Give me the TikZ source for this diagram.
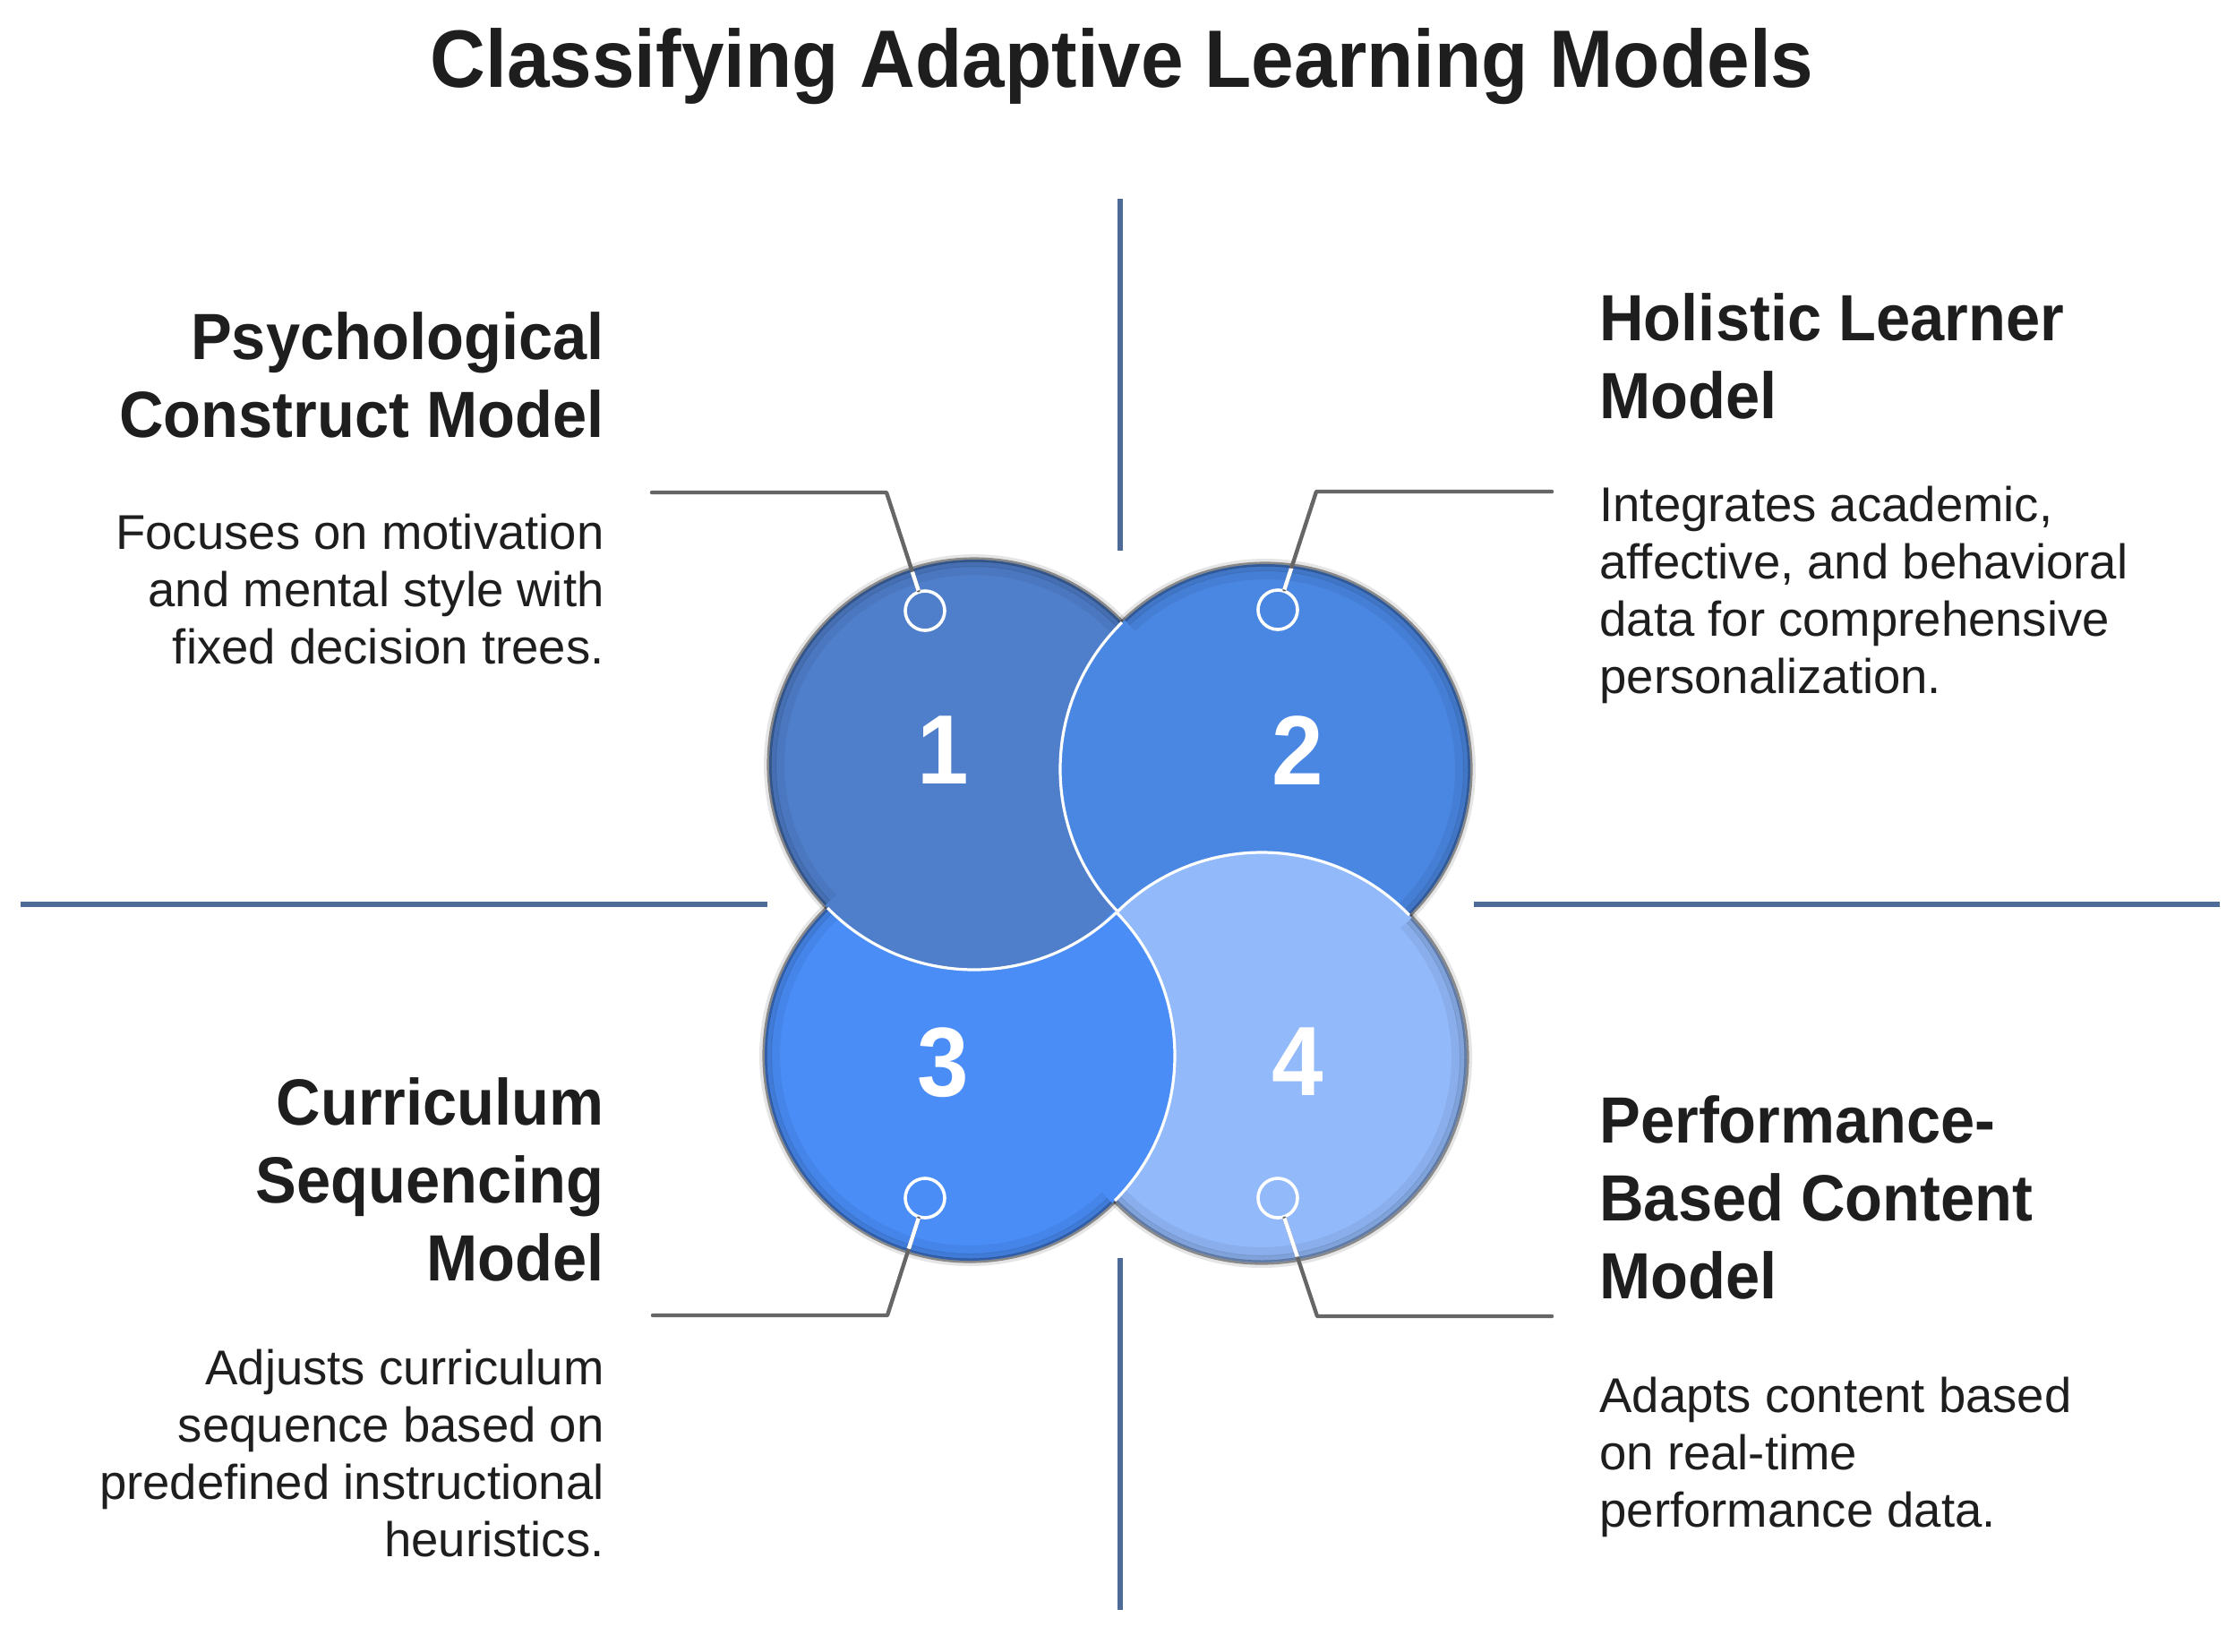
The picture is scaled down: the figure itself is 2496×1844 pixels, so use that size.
\documentclass[tikz,border=0pt]{standalone}
\usepackage{fontspec}
\setmainfont{Liberation Sans}
\newfontfamily\hfont[FakeStretch=0.94]{Liberation Sans}
\newfontfamily\dfont{Liberation Sans}
\definecolor{ink}{HTML}{1E1E1E}
\definecolor{cA}{HTML}{4F7FCB}
\definecolor{cB}{HTML}{4A87E3}
\definecolor{cC}{HTML}{4A8DF7}
\definecolor{cD}{HTML}{92B9FA}
\definecolor{axiscol}{HTML}{4E6A96}
\definecolor{leadcol}{HTML}{666666}
\newcommand\Rad{229}
\begin{document}
\begin{tikzpicture}[x=0.5pt,y=-0.5pt,
  titletext/.style={font=\hfont\bfseries\fontsize{45.5}{54}\selectfont, text=ink, inner sep=0, anchor=base},
  headtext/.style={font=\hfont\bfseries\fontsize{36.5}{43.5}\selectfont, text=ink, inner sep=0},
  desctext/.style={font=\dfont\fontsize{27.25}{32}\selectfont, text=ink, inner sep=0},
  headL/.style={headtext, anchor=base east},
  headR/.style={headtext, anchor=base west},
  descL/.style={desctext, anchor=base east},
  descR/.style={desctext, anchor=base west},
  digit/.style={font=\hfont\bfseries\fontsize{55}{62}\selectfont, text=white, inner sep=0},
  marker/.style={circle, draw=white, line width=1.8pt, minimum size=22pt, inner sep=0},
  leader/.style={draw=leadcol, line width=2.2pt, line join=round, line cap=round},
  leaderin/.style={draw=white, line width=2.2pt},
  axisline/.style={draw=axiscol, line width=3.3pt},
  whitearc/.style={draw=white, line width=1.6pt},
]
\useasboundingbox (0,0) rectangle (2496,1844);

% ---- axis lines ----
\coordinate (vt1) at (1251,222);
\coordinate (vt2) at (1251,615);
\coordinate (vb1) at (1251,1405);
\coordinate (vb2) at (1251,1798);
\coordinate (hl1) at (23,1010);
\coordinate (hl2) at (857,1010);
\coordinate (hr1) at (1646,1010);
\coordinate (hr2) at (2479,1010);
\draw[axisline] (vt1) -- (vt2);
\draw[axisline] (vb1) -- (vb2);
\draw[axisline] (hl1) -- (hl2);
\draw[axisline] (hr1) -- (hr2);

% ---- circle centres ----
\coordinate (C1) at (1088,854);
\coordinate (C2) at (1413,859);
\coordinate (C3) at (1083,1179);
\coordinate (C4) at (1409,1181);

% outer soft edge
\foreach \c in {C1,C2,C3,C4} {
  \draw[black, opacity=.10, line width=3pt] (\c) circle[radius=\Rad+3];
  \draw[black, opacity=.40, line width=1.6pt] (\c) circle[radius=\Rad+1];
}
% fills (lowest first)
\fill[cC] (C3) circle[radius=\Rad];
\fill[cA] (C1) circle[radius=\Rad];
\fill[cB] (C2) circle[radius=\Rad];
\fill[cD] (C4) circle[radius=\Rad];
% inner shading near the rims
\foreach \c in {C1,C2,C3,C4} {
  \begin{scope}
    \clip (\c) circle[radius=\Rad];
    \draw[black, opacity=.32, line width=1.5pt] (\c) circle[radius=\Rad-1];
    \draw[black, opacity=.12, line width=3pt] (\c) circle[radius=\Rad-5];
    \draw[black, opacity=.06, line width=5pt] (\c) circle[radius=\Rad-12];
  \end{scope}
}
% overlaps (top colour wins)
\begin{scope}\clip (C1) circle[radius=\Rad+4]; \fill[cB] (C2) circle[radius=\Rad];\end{scope}
\begin{scope}\clip (C3) circle[radius=\Rad+4]; \fill[cA] (C1) circle[radius=\Rad];\end{scope}
\begin{scope}\clip (C2) circle[radius=\Rad+4]; \fill[cD] (C4) circle[radius=\Rad];\end{scope}
\begin{scope}\clip (C4) circle[radius=\Rad+4]; \fill[cC] (C3) circle[radius=\Rad];\end{scope}
% white rims where a circle lies on top
\begin{scope}\clip (C1) circle[radius=\Rad]; \draw[whitearc] (C2) circle[radius=\Rad];\end{scope}
\begin{scope}\clip (C3) circle[radius=\Rad]; \draw[whitearc] (C1) circle[radius=\Rad];\end{scope}
\begin{scope}\clip (C2) circle[radius=\Rad]; \draw[whitearc] (C4) circle[radius=\Rad];\end{scope}
\begin{scope}\clip (C4) circle[radius=\Rad]; \draw[whitearc] (C3) circle[radius=\Rad];\end{scope}

% ---- numbers ----
\node[digit] (n1) at (1053,838) {1};
\node[digit] (n2) at (1449,838) {2};
\node[digit] (n3) at (1053,1187) {3};
\node[digit] (n4) at (1449,1186) {4};

% ---- markers and leaders ----
\node[marker] (m1) at (1033,682) {};
\node[marker] (m2) at (1427,681) {};
\node[marker] (m3) at (1033,1338) {};
\node[marker] (m4) at (1427,1338) {};
\coordinate (e1) at (990,550);  \coordinate (t1) at (728,550);
\coordinate (e2) at (1470,549); \coordinate (t2) at (1733,549);
\coordinate (e3) at (991,1469); \coordinate (t3) at (729,1469);
\coordinate (e4) at (1471,1470); \coordinate (t4) at (1733,1470);
\draw[leader] (m1) -- (e1) -- (t1);
\draw[leader] (m2) -- (e2) -- (t2);
\draw[leader] (m3) -- (e3) -- (t3);
\draw[leader] (m4) -- (e4) -- (t4);
\begin{scope}\clip (C1) circle[radius=\Rad-3]; \draw[leaderin] (m1) -- (e1);\end{scope}
\begin{scope}\clip (C2) circle[radius=\Rad-3]; \draw[leaderin] (m2) -- (e2);\end{scope}
\begin{scope}\clip (C3) circle[radius=\Rad-3]; \draw[leaderin] (m3) -- (e3);\end{scope}
\begin{scope}\clip (C4) circle[radius=\Rad-3]; \draw[leaderin] (m4) -- (e4);\end{scope}

% ---- title ----
\node[titletext] (title) at (1253,97) {Classifying Adaptive Learning Models};

% ---- block 1 ----
\node[headL] (h1a) at (675,401) {Psychological};
\node[headL] (h1b) at (675,488) {Construct Model};
\node[descL] (d1a) at (675,613) {Focuses on motivation};
\node[descL] (d1b) at (675,677) {and mental style with};
\node[descL] (d1c) at (675,741) {fixed decision trees.};

% ---- block 2 ----
\node[headR] (h2a) at (1786,380) {Holistic Learner};
\node[headR] (h2b) at (1786,467) {Model};
\node[descR] (d2a) at (1786,582) {Integrates academic,};
\node[descR] (d2b) at (1786,646) {affective, and behavioral};
\node[descR] (d2c) at (1786,710) {data for comprehensive};
\node[descR] (d2d) at (1786,774) {personalization.};

% ---- block 3 ----
\node[headL] (h3a) at (675,1256) {Curriculum};
\node[headL] (h3b) at (675,1343) {Sequencing};
\node[headL] (h3c) at (675,1430) {Model};
\node[descL] (d3a) at (675,1546) {Adjusts curriculum};
\node[descL] (d3b) at (675,1610) {sequence based on};
\node[descL] (d3c) at (675,1674) {predefined instructional};
\node[descL] (d3d) at (675,1738) {heuristics.};

% ---- block 4 ----
\node[headR] (h4a) at (1786,1276) {Performance-};
\node[headR] (h4b) at (1786,1363) {Based Content};
\node[headR] (h4c) at (1786,1450) {Model};
\node[descR] (d4a) at (1786,1577) {Adapts content based};
\node[descR] (d4b) at (1786,1641) {on real-time};
\node[descR] (d4c) at (1786,1705) {performance data.};
\end{tikzpicture}
\end{document}
